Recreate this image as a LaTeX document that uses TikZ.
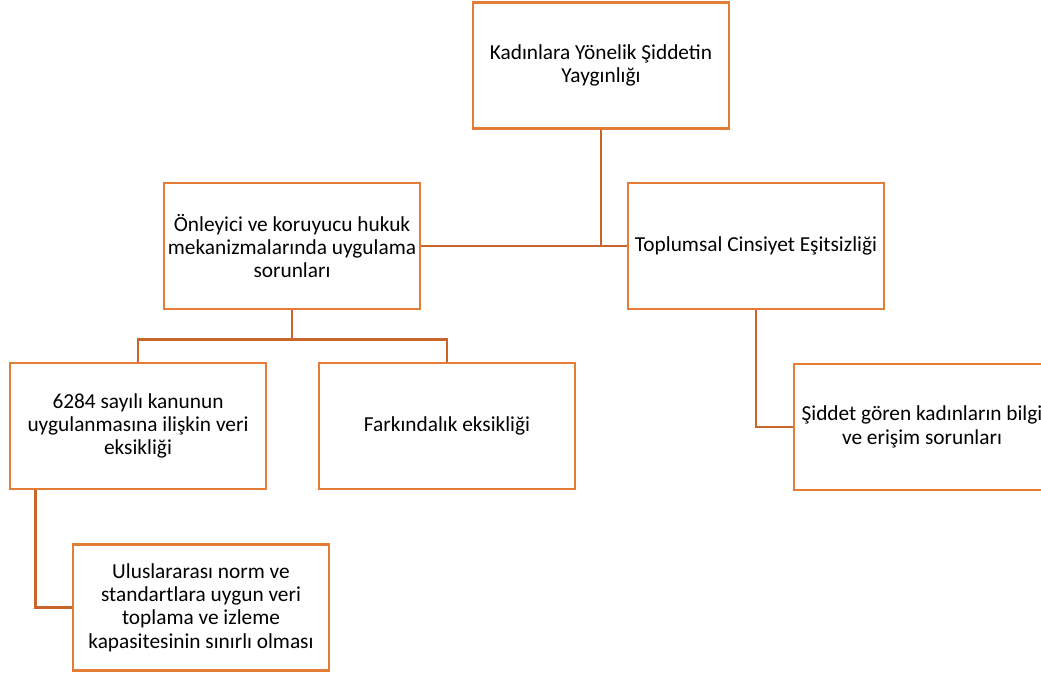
\documentclass[tikz,border=0pt]{standalone}
\usepackage{fontspec}
\setmainfont{Carlito}
\usepackage{xcolor}

\definecolor{boxorange}{RGB}{229,124,54}
\definecolor{lineorange}{RGB}{200,101,42}

\tikzset{
	box/.style = {draw = boxorange, line width = 1.7pt, fill = white, align = center,
		minimum width = 153.6pt, minimum height = 75.6pt, inner sep = 2pt,
		font = \fontsize{12.8}{14}\selectfont},
	link/.style = {draw = lineorange, line width = 1.7pt}
}

\begin{document}
\begin{tikzpicture}[x = 0.6pt, y = -0.6pt]
		%frame of the page
		\useasboundingbox (0,0) rectangle (1041,674);
		
		%boxes
		\node [box] (kadin) at (601,65.5) {Kadınlara Yönelik Şiddetin\\Yaygınlığı};
		\node [box] (onleyici) at (292,246) {Önleyici ve koruyucu hukuk\\mekanizmalarında uygulama\\sorunları};
		\node [box] (toplumsal) at (756,246) {Toplumsal Cinsiyet Eşitsizliği};
		\node [box] (kanun) at (138,426) {6284 sayılı kanunun\\uygulanmasına ilişkin veri\\eksikliği};
		\node [box] (farkindalik) at (447,426) {Farkındalık eksikliği};
		\node [box] (siddet) at (922,427) {Şiddet gören kadınların bilgi\\ve erişim sorunları};
		\node [box] (uluslararasi) at (201,607.5) {Uluslararası norm ve\\standartlara uygun veri\\toplama ve izleme\\kapasitesinin sınırlı olması};
		
		%top level
		\draw [link] (onleyici.east) -- (toplumsal.west);
		\draw [link] (kadin.south) -- (kadin.south |- onleyici.east);
		
		%left branch
		\draw [link] (onleyici.south) -- ++(0,29) coordinate (j1);
		\draw [link] (j1) -| (kanun.north);
		\draw [link] (j1) -| (farkindalik.north);
		\draw [link] ([xshift = 16.2pt]kanun.south west) |- (uluslararasi.west);
		
		%right branch
		\draw [link] (toplumsal.south) |- (siddet.west);

	\end{tikzpicture}
\end{document}
